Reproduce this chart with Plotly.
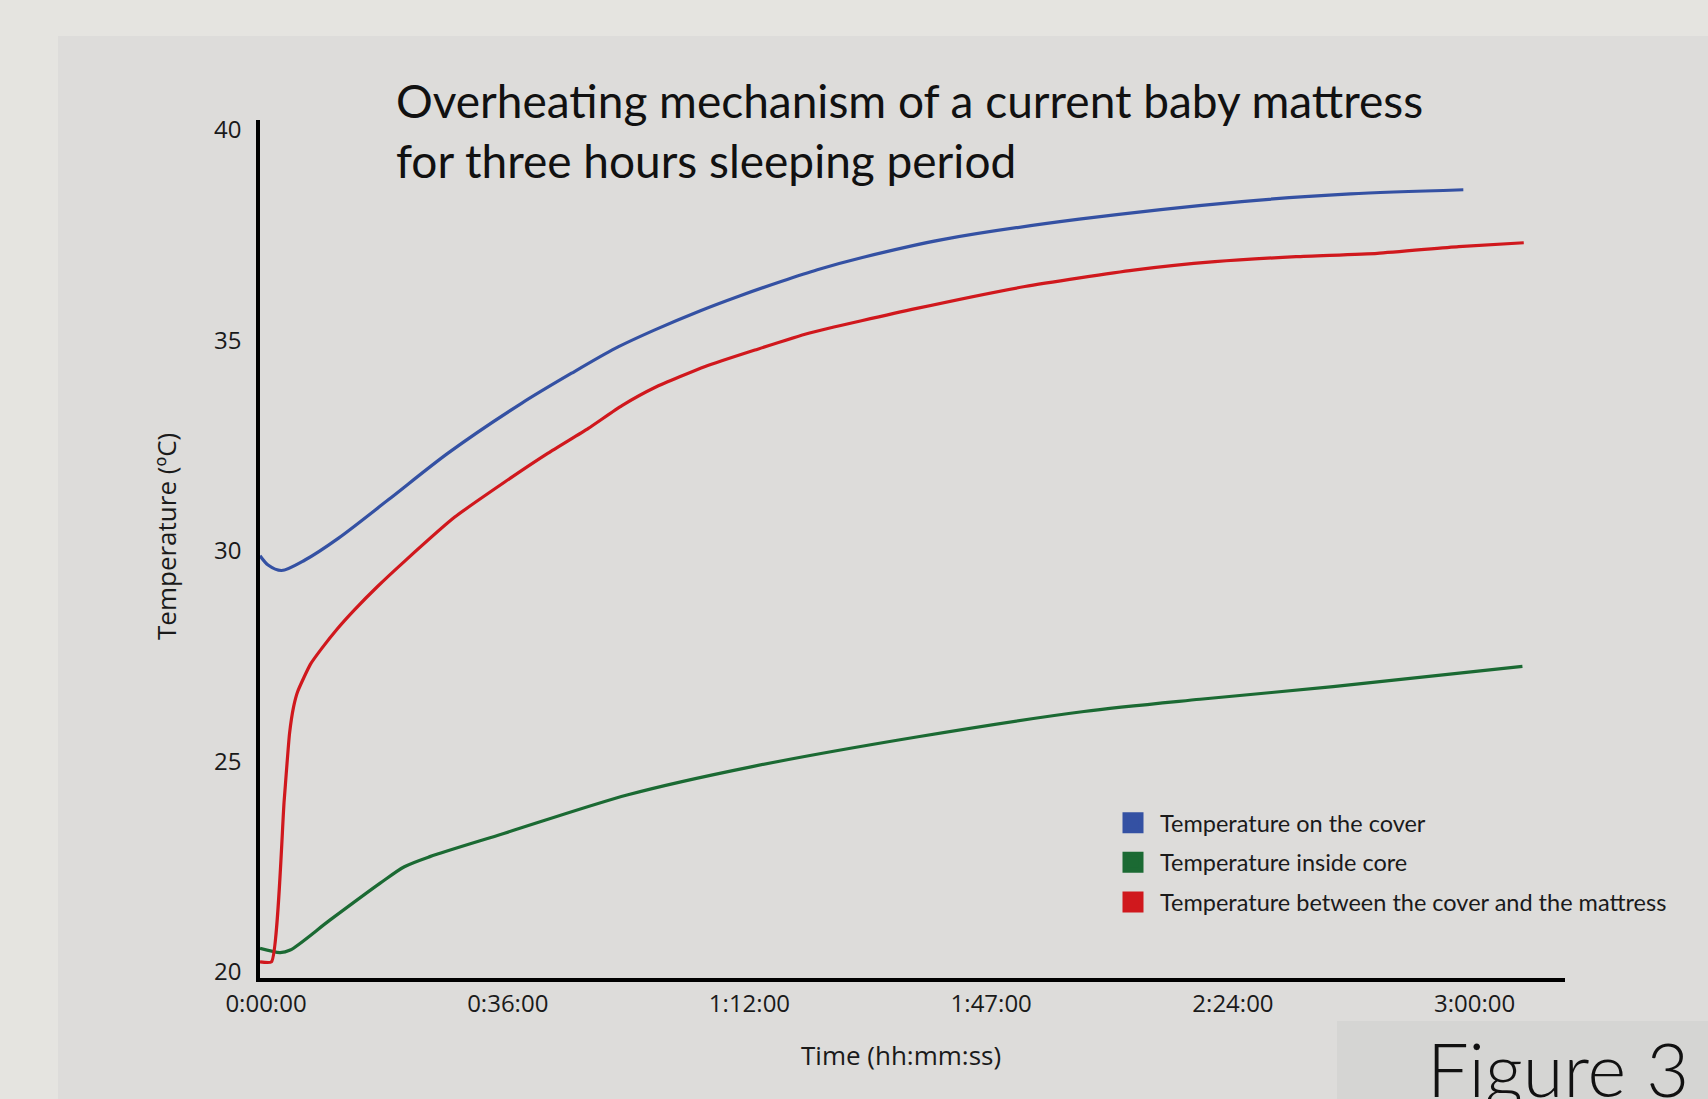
import plotly.graph_objects as go

# ---- data (time in minutes, temperature in °C) ----
cover_t = [0, 1.2, 3.2, 6.7, 11.7, 19.1, 28.0, 39.0, 46.4, 52.9, 58.8, 65.5, 71.3, 77.6, 83.0, 89.7, 101.8, 122.0, 146.2, 162.4, 179.2]
cover_v = [29.88, 29.66, 29.53, 29.78, 30.30, 31.21, 32.32, 33.51, 34.22, 34.81, 35.25, 35.70, 36.05, 36.40, 36.68, 36.97, 37.40, 37.88, 38.30, 38.48, 38.58]

between_t = [0, 1.7, 3.6, 4.4, 5.0, 5.6, 7.5, 9.2, 11.5, 14.1, 17.5, 21.6, 29.0, 36.5, 42.9, 48.9, 53.9, 58.8, 66.3, 73.7, 81.7, 97.8, 113.9, 130.1, 142.2, 154.3, 166.4, 178.5, 188.2]
between_v = [20.23, 20.23, 24.06, 25.66, 26.29, 26.65, 27.30, 27.68, 28.14, 28.60, 29.15, 29.76, 30.80, 31.64, 32.32, 32.91, 33.45, 33.88, 34.38, 34.77, 35.17, 35.76, 36.28, 36.67, 36.87, 36.99, 37.07, 37.23, 37.32]

core_t = [0, 3.0, 4.5, 10.4, 17.9, 21.5, 25.3, 36.3, 54.8, 73.3, 98.0, 122.7, 140.0, 159.8, 188.0]
core_v = [20.55, 20.45, 20.51, 21.22, 22.10, 22.49, 22.73, 23.28, 24.20, 24.87, 25.58, 26.18, 26.47, 26.77, 27.25]

x_tickvals = [0, 36, 72, 108, 144, 180]
x_ticktext = ["0:00:00", "0:36:00", "1:12:00", "1:47:00", "2:24:00", "3:00:00"]
y_tickvals = [20, 25, 30, 35, 40]

series_names = ["Temperature on the cover", "Temperature inside core", "Temperature between the cover and the mattress"]
series_colors = ["#3451A3", "#1B6A33", "#D0181D"]

fig = go.Figure()

lines = [(cover_t, cover_v, 0.8), (core_t, core_v, 0.8), (between_t, between_v, 0.5)]
for (t, v, sm), name, col in zip(lines, series_names, series_colors):
    fig.add_trace(go.Scatter(x=t, y=v, mode="lines", name=name, legendgroup=name,
                             showlegend=False,
                             line=dict(color=col, width=3.2, shape="spline", smoothing=sm)))

# legend entries drawn as squares
for name, col in zip(series_names, series_colors):
    fig.add_trace(go.Scatter(x=[None], y=[None], mode="markers", name=name, legendgroup=name,
                             marker=dict(symbol="square", size=16, color=col,
                                         line=dict(color=col, width=5))))

PL, PR, PT, PB = 260, 1565, 120, 978
W, H = 1708, 1099
pw, ph = PR - PL, PB - PT

def px(x):
    return (x - PL) / pw

def py(y):
    return (PB - y) / ph

fig.update_layout(
    width=W, height=H,
    margin=dict(l=PL, r=W - PR, t=PT, b=H - PB, pad=0),
    paper_bgcolor="#E5E4E0",
    plot_bgcolor="rgba(0,0,0,0)",
    font=dict(family="Open Sans", color="#1A1A1A"),
    showlegend=True,
    legend=dict(x=px(1106), y=py(801), xanchor="left", yanchor="top",
                bgcolor="rgba(0,0,0,0)", borderwidth=0, tracegroupgap=6,
                itemwidth=44, font=dict(family="Lato", size=23.5, color="#1A1A1A")),
    xaxis=dict(range=[0, pw / 6.715], showgrid=False, zeroline=False,
               showline=True, linecolor="black", linewidth=4,
               tickmode="array", tickvals=x_tickvals, ticktext=x_ticktext,
               ticks="", ticklabelshift=6, ticklabelstandoff=1,
               tickfont=dict(family="Open Sans", size=24, color="#1A1A1A")),
    yaxis=dict(range=[19.845, 40.238], showgrid=False, zeroline=False,
               showline=True, linecolor="black", linewidth=3.5,
               tickmode="array", tickvals=y_tickvals,
               ticks="", ticklabelstandoff=10,
               tickfont=dict(family="Open Sans", size=24, color="#1A1A1A")),
    shapes=[
        dict(type="rect", xref="paper", yref="paper", layer="below",
             x0=px(58), x1=px(W + 5), y0=py(H + 5), y1=py(36),
             fillcolor="#DDDCDA", line=dict(width=0)),
        dict(type="rect", xref="paper", yref="paper", layer="below",
             x0=px(1337), x1=px(W + 5), y0=py(H + 5), y1=py(1021),
             fillcolor="#D5D5D3", line=dict(width=0)),
    ],
    annotations=[
        dict(text="Overheating mechanism of a current baby mattress<br>for three hours sleeping period",
             xref="paper", yref="paper", x=px(394), y=py(130), xanchor="left", yanchor="middle",
             align="left", showarrow=False, font=dict(family="Lato", size=46, color="#111111")),
        dict(text="Temperature (ºC)", xref="paper", yref="paper", x=px(166), y=py(537),
             xanchor="center", yanchor="middle", textangle=-90, showarrow=False,
             font=dict(family="Open Sans", size=26, color="#1A1A1A")),
        dict(text="Time (hh:mm:ss)", xref="paper", yref="paper", x=px(901), y=py(1055),
             xanchor="center", yanchor="middle", showarrow=False,
             font=dict(family="Open Sans", size=26, color="#1A1A1A")),
        dict(text="Figure 3", xref="paper", yref="paper", x=px(1425), y=py(1068),
             xanchor="left", yanchor="middle", showarrow=False,
             font=dict(family="Lato", size=74, color="#111111", weight=300)),
    ],
)

fig.write_html(
    "out.html",
    config={"displayModeBar": False},
    post_script="document.body.style.margin='0';document.body.style.background='#E5E4E0';document.body.style.overflow='hidden';",
)
